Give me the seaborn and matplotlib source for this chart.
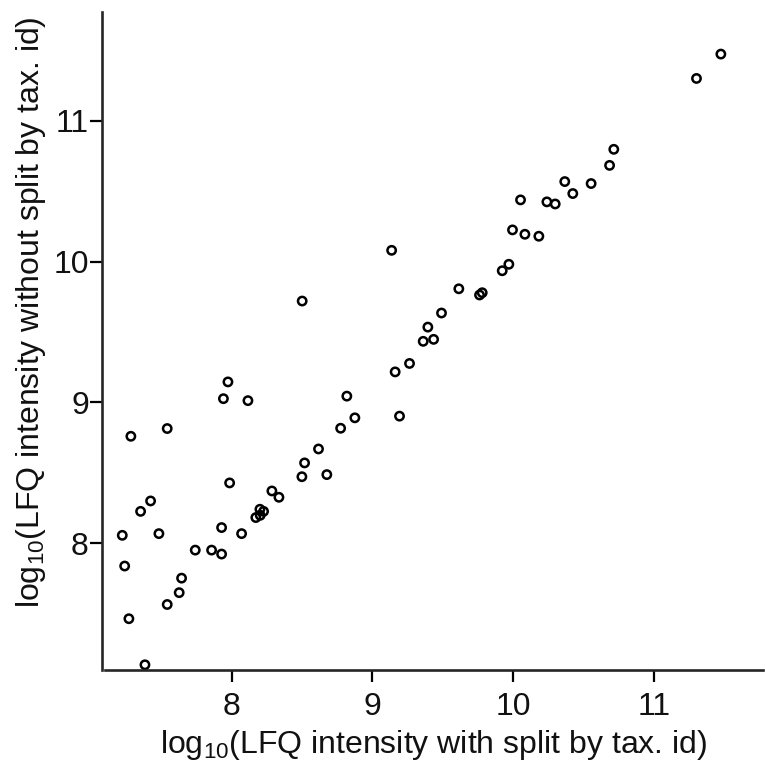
import matplotlib
matplotlib.use("Agg")
import matplotlib.pyplot as plt
from matplotlib import font_manager
import seaborn as sns
import pandas as pd

# log10 LFQ intensities per protein group
with_split = [
    7.942, 8.116, 7.974, 7.285, 7.543, 7.986, 8.286, 8.336, 7.425, 7.354,
    8.201, 8.227, 8.172, 8.203, 7.929, 7.224, 7.484, 8.071, 7.742, 7.858,
    7.929, 7.241, 7.645, 7.628, 7.543, 7.271, 7.385, 8.499, 8.501, 9.613,
    9.490, 9.393, 9.360, 9.434, 9.263, 9.161, 8.818, 8.875, 9.192, 8.774,
    8.617, 8.518, 8.676, 10.683, 10.713, 10.365, 10.552, 10.051, 10.422, 10.238,
    10.297, 9.994, 10.082, 10.181, 9.968, 9.921, 9.779, 9.760, 9.136, 11.473,
    11.300,
]
without_split = [
    9.027, 9.013, 9.146, 8.760, 8.815, 8.429, 8.372, 8.327, 8.301, 8.227,
    8.242, 8.227, 8.183, 8.199, 8.112, 8.057, 8.069, 8.069, 7.952, 7.952,
    7.924, 7.839, 7.753, 7.650, 7.566, 7.465, 7.138, 8.473, 9.720, 9.807,
    9.635, 9.535, 9.434, 9.448, 9.277, 9.217, 9.045, 8.891, 8.903, 8.817,
    8.670, 8.571, 8.488, 10.683, 10.797, 10.568, 10.554, 10.438, 10.483, 10.424,
    10.409, 10.225, 10.194, 10.180, 9.981, 9.935, 9.779, 9.763, 10.080, 11.473,
    11.300,
]
ticks = [8, 9, 10, 11]
tick_labels = ["8", "9", "10", "11"]

df = pd.DataFrame({"with_split": with_split, "without_split": without_split})

sns.set_style("ticks")
installed = {f.name for f in font_manager.fontManager.ttflist}
family = "Liberation Sans Narrow" if "Liberation Sans Narrow" in installed else "Liberation Sans"
plt.rcParams["font.family"] = [family, "DejaVu Sans"]
plt.rcParams["mathtext.default"] = "regular"

text_color = "#111111"

fig = plt.figure(figsize=(7.65, 7.65), dpi=100)
ax = fig.add_axes([0.137, 0.124, 0.860, 0.860])

sns.scatterplot(
    data=df, x="with_split", y="without_split", ax=ax,
    marker="o", s=36, facecolor="none", edgecolor="black", linewidth=1.8,
)

ax.set_xlim(7.1, 11.77)
ax.set_ylim(7.1, 11.77)
ax.set_xticks(ticks)
ax.set_xticklabels(tick_labels)
ax.set_yticks(ticks)
ax.set_yticklabels(tick_labels, rotation=90, va="center")

ax.set_xlabel("log$_{10}$(LFQ intensity with split by tax. id)", fontsize=23, color=text_color)
ax.set_ylabel("log$_{10}$(LFQ intensity without split by tax. id)", fontsize=23, color=text_color)
ax.xaxis.set_label_coords(0.5, -0.088)
ax.yaxis.set_label_coords(-0.087, 0.544)

ax.tick_params(axis="both", labelsize=23, length=8.5, width=1.6,
               colors="black", labelcolor=text_color, direction="out")
ax.tick_params(axis="x", pad=7)
ax.tick_params(axis="y", pad=1)
for side in ("top", "right"):
    ax.spines[side].set_visible(False)
for side in ("left", "bottom"):
    ax.spines[side].set_linewidth(1.9)
ax.spines["left"].set_position(("outward", 2))

fig.savefig("out.png", dpi=100)
